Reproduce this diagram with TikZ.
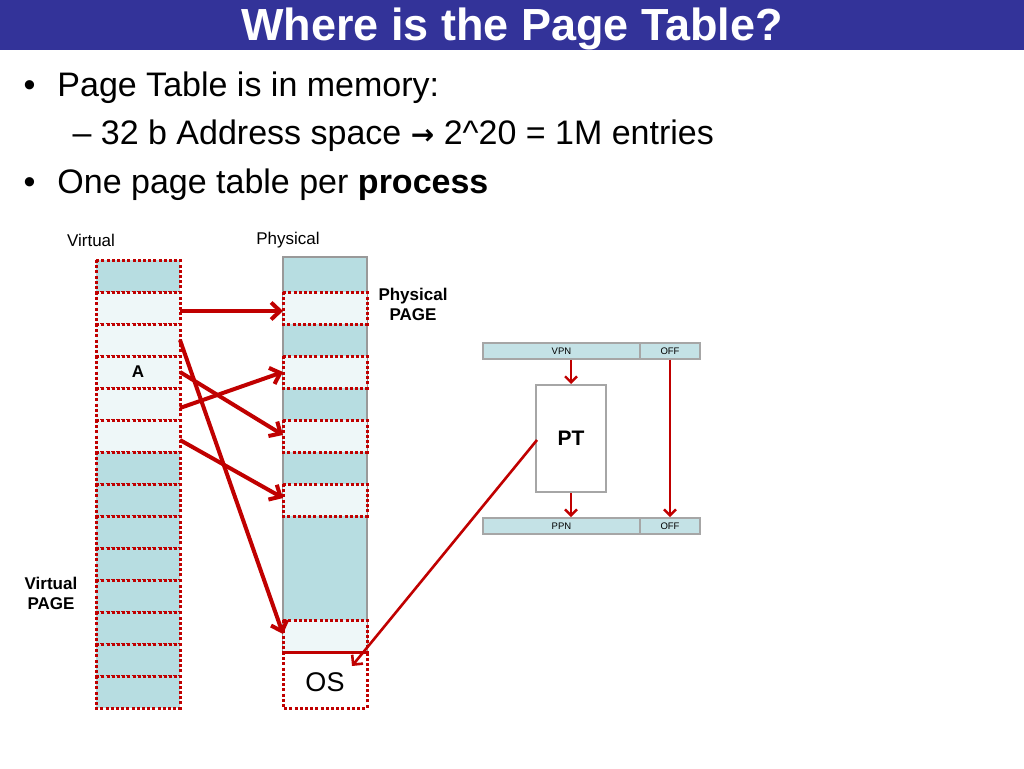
\documentclass[tikz,border=0pt]{standalone}
\usepackage{fontspec}
\setmainfont{Liberation Sans}
\newfontfamily\djv{DejaVu Sans}
\usetikzlibrary{arrows.meta}
\definecolor{tb}{HTML}{333399}
\definecolor{pblue}{HTML}{B7DDE1}
\definecolor{plight}{HTML}{EEF7F8}
\definecolor{dred}{HTML}{C00000}
\definecolor{barb}{HTML}{C4E2E6}
\begin{document}
\begin{tikzpicture}[x=1pt,y=-1pt,
  cell/.style={draw=dred,dash pattern=on 3pt off 2.2pt,line width=3pt},
  arr/.style={draw=dred,line width=4pt,-{Straight Barb[length=9pt,width=17pt,line width=4pt]}},
  thin/.style={draw=dred,line width=2.4pt,-{Straight Barb[length=6pt,width=12pt,line width=2.4pt]}},
  bar/.style={draw=gray!70,fill=barb,line width=1.8pt,font=\fontsize{9.5}{11}\selectfont,inner sep=0pt}]
\useasboundingbox (0,0) rectangle (1024,768);
\fill[tb] (0,0) rectangle (1024,50);
\node (title) at (512,29) {\fontsize{45}{50}\selectfont\bfseries\color{white}Where is the Page Table?};
\node[anchor=west] (b1) at (20,88) {\fontsize{34}{40}\selectfont •\hspace{22pt}Page Table is in memory:};
\node[anchor=west] (b2) at (69,136) {\fontsize{34}{40}\selectfont – 32 b Address space {\djv\bfseries\fontsize{28}{34}\selectfont →} 2\textasciicircum20 = 1M entries};
\node[anchor=west] (b3) at (20,185) {\fontsize{34}{40}\selectfont •\hspace{22pt}One page table per \textbf{process}};
\node (lv) at (91,240) {\fontsize{17}{20}\selectfont Virtual};
\node (lp) at (288,240) {\fontsize{17}{20}\selectfont Physical};
% virtual column
\foreach \i in {0,...,13}{
  \pgfmathsetmacro\yy{260+32*\i}
  \ifnum\i>0 \ifnum\i<6 \def\fc{plight}\else\def\fc{pblue}\fi\else\def\fc{pblue}\fi
  \fill[\fc] (96,\yy) rectangle (180,\yy+32);
  \draw[cell] (96,\yy) rectangle (180,\yy+32);
}
\coordinate (v1) at (180,311);
\coordinate (v2) at (180,340);
\coordinate (v3) at (180,372);
\coordinate (v4) at (180,408);
\coordinate (v5) at (180,440);
\node (A) at (138,372) {\fontsize{17}{20}\selectfont\bfseries A};
\node[align=center,font=\fontsize{17}{20}\selectfont\bfseries] (vp) at (51,593) {Virtual\\[0pt]PAGE};
% physical column
\fill[pblue] (283,257) rectangle (367,652);
\draw[gray!80,line width=2pt] (283,652) -- (283,257) -- (367,257) -- (367,652);
\foreach \a/\b in {292/324,356/388,420/452,484/516,620/652}{
  \fill[plight] (283,\a) rectangle (367,\b);
  \draw[cell] (283,\a) rectangle (367,\b);
}
\draw[cell] (283,652) rectangle (367,708);
\node (os) at (325,682) {\fontsize{27}{30}\selectfont OS};
\coordinate (p1) at (283,311);
\coordinate (p2) at (283,372);
\coordinate (p3) at (283,435);
\coordinate (p4) at (283,498);
\coordinate (p5) at (283,634);
\node[align=center,font=\fontsize{17}{20}\selectfont\bfseries] (pp) at (413,304) {Physical\\[0pt]PAGE};
\draw[arr] (v1) -- (p1);
\draw[arr] (v2) -- (p5);
\draw[arr] (v3) -- (p3);
\draw[arr] (v4) -- (p2);
\draw[arr] (v5) -- (p4);
% right side
\node[bar,minimum width=157pt,minimum height=16pt] (vpn) at (561.5,351) {VPN};
\node[bar,minimum width=60pt,minimum height=16pt] (off1) at (670,351) {OFF};
\node[bar,minimum width=157pt,minimum height=16pt] (ppn) at (561.5,526) {PPN};
\node[bar,minimum width=60pt,minimum height=16pt] (off2) at (670,526) {OFF};
\node[draw=gray!70,line width=2pt,fill=white,minimum width=70pt,minimum height=107pt,font=\fontsize{21}{24}\selectfont\bfseries] (pt) at (571,438.5) {PT};
\draw[thin] (vpn.south -| pt) -- (pt.north);
\draw[thin] (pt.south) -- (ppn.north -| pt);
\draw[thin] (off1.south) -- (off2.north);
\coordinate (ptl) at (537,440);
\coordinate (ost) at (352,666);
\draw[draw=dred,line width=2.6pt,-{Straight Barb[length=7pt,width=14pt,line width=2.6pt]}] (ptl) -- (ost);
\end{tikzpicture}
\end{document}
